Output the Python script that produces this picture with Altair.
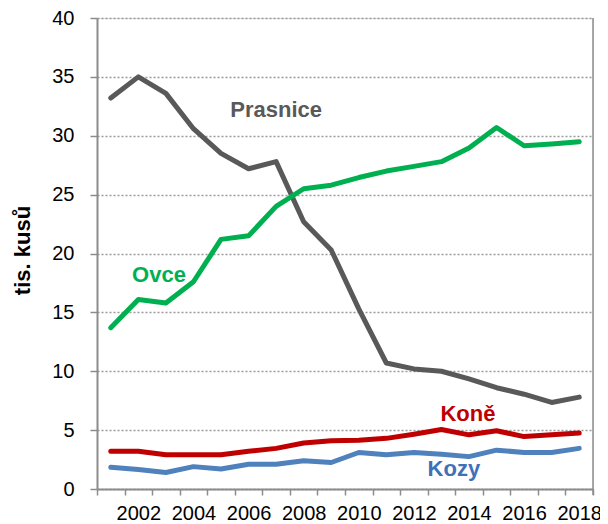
import altair as alt
import pandas as pd

years = list(range(2001, 2019))
series_names = ["Prasnice", "Ovce", "Koně", "Kozy"]
prasnice = [33.2, 35.0, 33.6, 30.6, 28.5, 27.2, 27.8, 22.7, 20.3, 15.3, 10.7, 10.2, 10.0, 9.35, 8.6, 8.05, 7.35, 7.8]
ovce = [13.7, 16.1, 15.8, 17.6, 21.2, 21.5, 24.0, 25.5, 25.8, 26.45, 27.0, 27.4, 27.8, 28.95, 30.7, 29.15, 29.3, 29.5]
kone = [3.2, 3.2, 2.9, 2.9, 2.9, 3.2, 3.45, 3.9, 4.1, 4.15, 4.3, 4.65, 5.05, 4.6, 4.95, 4.45, 4.6, 4.75]
kozy = [1.85, 1.65, 1.4, 1.9, 1.7, 2.1, 2.1, 2.4, 2.25, 3.1, 2.9, 3.1, 2.95, 2.75, 3.3, 3.1, 3.1, 3.45]

line_colors = ["#595959", "#00B050", "#C00000", "#4F81BD"]
text_colors = ["#595959", "#00B050", "#C00000", "#4070B8"]

label_x = [2007.0, 2002.75, 2013.96, 2013.45]
label_y = [32.2, 18.2, 6.33, 1.7]

y_ticks = [0, 5, 10, 15, 20, 25, 30, 35, 40]
x_tick_values = [y - 0.5 for y in years] + [2018.5]
x_label_years = [2002, 2004, 2006, 2008, 2010, 2012, 2014, 2016, 2018]

rows = []
for name, vals in zip(series_names, [prasnice, ovce, kone, kozy]):
    for yr, v in zip(years, vals):
        rows.append({"year": yr, "value": v, "series": name})
df = pd.DataFrame(rows)
lab_df = pd.DataFrame({"name": series_names, "lx": label_x, "ly": label_y})

W, H = 496, 471
FONT = "Liberation Sans"
AX = "#8c8c8c"

x_scale = alt.Scale(domain=[2000.5, 2018.5], nice=False, zero=False)
y_scale = alt.Scale(domain=[0, 40], nice=False)

x_axis_ticks = alt.Axis(
    values=x_tick_values,
    labels=False,
    tickSize=6,
    tickColor=AX,
    tickWidth=1.5,
    domainColor=AX,
    domainWidth=2,
    grid=False,
    title=None,
    orient="bottom",
)

x_axis_labels = alt.Axis(
    values=x_label_years,
    format="d",
    ticks=False,
    domain=False,
    labelPadding=14,
    labelFontSize=20,
    labelFont=FONT,
    labelColor="#000000",
    labelOverlap=False,
    labelFlush=False,
    grid=False,
    title=None,
    orient="bottom",
)

y_axis = alt.Axis(
    values=y_ticks,
    tickSize=7,
    tickColor=AX,
    tickWidth=1.5,
    domainColor=AX,
    domainWidth=2,
    labelPadding=16,
    labelFontSize=20,
    labelFont=FONT,
    labelColor="#000000",
    grid=True,
    gridColor="#9a9a9a",
    gridWidth=1.5,
    gridDash=[2, 2],
    title="tis. kusů",
    titleFont=FONT,
    titleFontSize=22,
    titleFontWeight="bold",
    titleColor="#000000",
    titleAngle=270,
    titleAlign="center",
    titleBaseline="alphabetic",
    titleX=-68,
    titleY=232,
    orient="left",
)

lines = alt.Chart(df).mark_line(strokeWidth=5, strokeCap="round", strokeJoin="round").encode(
    x=alt.X("year:Q", scale=x_scale, axis=x_axis_ticks),
    y=alt.Y("value:Q", scale=y_scale, axis=y_axis),
    color=alt.Color("series:N", scale=alt.Scale(domain=series_names, range=line_colors), legend=None),
)

labels = alt.Chart(lab_df).mark_text(
    fontSize=22, fontWeight="bold", font=FONT, align="center", baseline="middle"
).encode(
    x=alt.X("lx:Q", scale=x_scale, axis=x_axis_labels),
    y=alt.Y("ly:Q", scale=y_scale, axis=y_axis),
    text="name:N",
    color=alt.Color("name:N", scale=alt.Scale(domain=series_names, range=text_colors), legend=None),
)

border = alt.Chart(pd.DataFrame({"a": [0]})).mark_rule(color=AX, strokeWidth=1.5).encode(
    x=alt.value(W), y=alt.value(0), y2=alt.value(H + 6)
)

chart = (
    alt.layer(lines, labels, border)
    .resolve_scale(color="independent")
    .resolve_axis(x="independent", y="shared")
    .properties(
        width=W,
        height=H,
        autosize="none",
        padding={"left": 89, "top": 10, "right": 7, "bottom": 35},
    )
    .configure_view(stroke=None)
    .configure(background="white")
)

chart.save("out.html", embed_options={"renderer": "svg", "actions": False})
